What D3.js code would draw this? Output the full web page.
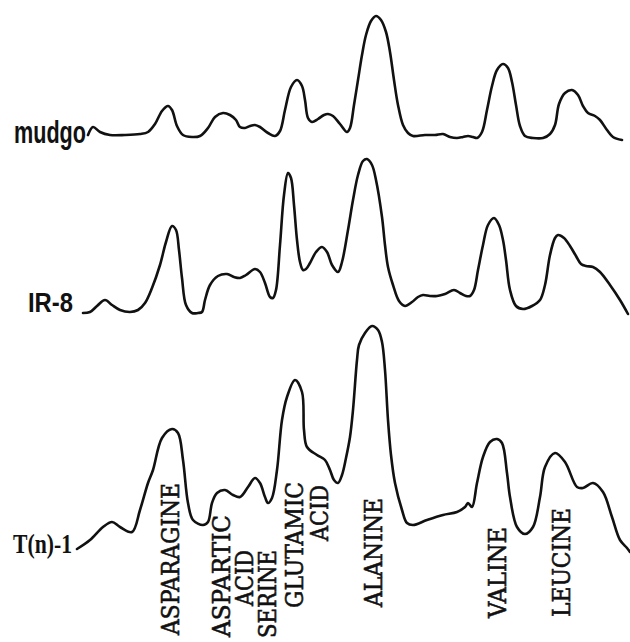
<!DOCTYPE html>
<html>
<head>
<meta charset="utf-8">
<script src="https://cdn.jsdelivr.net/npm/d3@7"></script>
<style>
body { margin: 0; background: #fff; }
</style>
</head>
<body>
<svg id="chromatogram" width="630" height="642"></svg>
<script>
// amino acid chromatograms of three rice samples

// traces: [time, signal] pairs
var mudgoTrace = [
[3.6,1.5],[4.6,5.5],[6.0,3],[8.0,1.5],[11.0,1.5],[14.0,2],[15.6,3],[17.0,7],[18.4,13.5],[19.6,16],
[20.4,14],[21.4,6],[22.6,1.5],[24.4,0.5],[26.0,1],[27.6,5],[29.0,10.5],[30.6,12.5],[32.0,11.5],[33.2,9],
[34.0,5.5],[35.0,5],[36.0,6],[37.0,6.5],[38.0,5.5],[39.6,2.5],[41.0,1],[42.0,3.5],[43.0,14],[44.2,25.5],
[45.4,29],[46.4,26],[47.0,19],[47.6,10],[48.4,8],[49.6,9.5],[50.8,11.5],[51.6,12],[52.6,11],[54.0,7],
[55.4,3],[56.0,5],[56.8,16.5],[57.6,29],[58.4,41.5],[59.2,51.5],[60.2,58.5],[61.2,61],[62.2,59],[63.2,53],
[64.0,43],[64.8,29],[65.6,16.5],[66.6,6.5],[67.6,2.5],[68.6,1],[71.0,1.5],[73.0,1.5],[74.6,2],[76.0,0.5],
[77.4,0],[78.6,0.5],[79.6,1],[80.6,0.5],[81.4,0],[82.4,3],[83.4,14],[84.4,26],[85.4,34],[86.6,37],
[87.6,35],[88.4,28],[89.2,16.5],[90.0,6],[91.0,1],[92.6,0],[94.6,0],[96.0,2],[97.0,6.5],[97.8,17],
[99.0,22.5],[100.4,24],[101.6,21.5],[102.6,16],[103.6,12.5],[105.0,11],[106.0,9],[107.4,4],[108.6,0.5],[110.4,-1]
];

var ir8Trace = [
[2.6,0.5],[4.0,1],[5.4,4],[7.0,7],[8.4,4.5],[10.0,2],[12.0,1],[13.6,2],[15.0,5.5],[16.4,13],
[18.0,24.5],[19.2,36],[20.4,44],[21.2,42],[21.8,32],[22.4,18],[23.2,4.5],[24.4,0.5],[25.6,0.5],[26.4,1],
[27.0,7],[28.0,14.5],[29.6,19],[31.4,20],[32.8,18.5],[34.0,18],[35.2,19.5],[37.0,22.5],[38.0,21],[39.0,15.5],
[40.0,8.5],[40.6,8],[41.2,12],[42.0,34.5],[42.8,59.5],[43.6,70.5],[44.2,68],[44.8,54.5],[45.4,37],[46.0,26],
[46.6,22],[47.2,22.5],[48.0,25.5],[49.2,31],[50.4,33.5],[51.4,31],[52.4,24.5],[53.6,21],[54.4,26],[55.6,42],
[56.6,57],[57.6,69.5],[58.6,76.5],[59.4,77.5],[60.4,74.5],[61.2,67],[62.4,48.5],[63.0,34.5],[63.6,23.5],[64.6,14.5],
[65.8,6.5],[67.0,4],[68.4,6],[69.6,8.5],[70.6,9.5],[72.0,9],[73.4,9],[75.0,10],[76.8,12],[78.0,10.5],
[79.2,9],[80.0,9],[80.8,12],[81.6,22],[82.6,34.5],[83.6,44.5],[84.8,48],[85.8,44.5],[86.6,37],[87.2,27],
[88.0,12],[89.2,4],[90.6,2.5],[92.4,4],[94.0,7],[95.0,14.5],[96.0,29.5],[97.0,38],[97.6,39.5],[98.8,38],
[100.0,34],[101.2,29],[102.2,25],[103.2,24],[104.6,23.5],[106.0,21],[108.0,14.5],[110.0,7],[111.6,0]
];

var tn1Trace = [
[1.4,0.5],[4.0,5],[6.6,11.5],[8.4,14],[10.0,11.5],[12.4,9],[14.0,20],[15.6,33.5],[16.6,40],[18.4,56],
[20.4,60.5],[21.6,58.5],[22.6,45],[23.6,23.5],[24.6,15],[26.6,12.5],[27.6,14],[28.4,23.5],[29.4,28.5],[31.0,30],
[32.6,27.5],[34.0,26.5],[35.6,31.5],[37.0,36],[38.0,33.5],[39.0,26.5],[39.6,23.5],[40.4,26],[41.4,40],[42.4,65],
[43.4,76.5],[45.0,85],[46.4,79],[46.8,60],[47.4,51.5],[49.4,47.5],[51.0,45],[52.0,40],[52.8,35],[53.6,33.5],
[54.4,37.5],[55.2,46],[56.0,56.5],[56.6,70],[57.4,95],[57.8,102.5],[59.0,108.5],[60.4,112],[61.6,110],[62.4,104],
[63.0,90],[63.6,65],[64.2,47.5],[65.0,33.5],[66.4,20],[67.4,13.5],[68.6,12.5],[71.4,15],[74.6,17.5],[77.4,19],
[79.0,21.5],[79.6,23.5],[80.4,21.5],[81.4,33.5],[82.6,46.5],[84.0,54],[85.4,55.5],[86.4,53.5],[87.4,38.5],[88.0,26.5],
[89.4,11.5],[91.0,8],[92.6,11.5],[94.0,26.5],[95.0,41.5],[97.0,48.5],[99.0,44],[101.4,31.5],[102.6,31],[104.6,33.5],
[106.6,29],[108.4,16.5],[110.0,5],[111.4,1],[112.0,-1]
];

var sampleNames = ["mudgo", "IR-8", "T(n)-1"];

// amino acid names and the time of their peak (label centre)
var peakNames = ["ASPARAGINE", "ASPARTIC", "ACID", "SERINE", "GLUTAMIC", "ACID", "ALANINE", "VALINE", "LEUCINE"];
var peakTimes = [20.0, 30.2, 34.8, 39.4, 44.8, 49.7, 60.6, 85.4, 98.2];

// layout
var traceBase = [138, 314, 550];
var sampleLabel = [
	{ x: 14, y: 143, len: 72, size: 32, font: "Liberation Sans" },
	{ x: 28, y: 312, len: 45, size: 27, font: "Liberation Sans" },
	{ x: 13, y: 553, len: 59, size: 27, font: "Liberation Serif" }
];
var peakBottom = [635, 637, 606, 638, 608, 541, 607, 618, 617];
var peakLen = [152, 122, 56, 88, 126, 56, 109, 91, 109];

var svg = d3.select("#chromatogram");

var xScale = d3.scaleLinear()
.domain([0, 112])
.range([70, 630]);

var traces = [mudgoTrace, ir8Trace, tn1Trace];

traces.forEach(function (trace, i) {
	var yScale = d3.scaleLinear()
	.domain([0, 100])
	.range([traceBase[i], traceBase[i] - 200]);

	var line = d3.line()
	.x(function (d) { return xScale(d[0]); })
	.y(function (d) { return yScale(d[1]); })
	.curve(d3.curveCatmullRom.alpha(0.5));

	svg.append("path")
	.datum(trace)
	.attr("d", line)
	.style("fill", "none")
	.style("stroke", "#111")
	.style("stroke-width", 2.6)
	.style("stroke-linejoin", "round")
	.style("stroke-linecap", "round");

	svg.append("text")
	.text(sampleNames[i])
	.attr("x", sampleLabel[i].x)
	.attr("y", sampleLabel[i].y)
	.attr("textLength", sampleLabel[i].len)
	.attr("lengthAdjust", "spacingAndGlyphs")
	.attr("font-family", sampleLabel[i].font)
	.attr("font-weight", "bold")
	.attr("font-size", sampleLabel[i].size)
	.style("fill", "#111");
});

peakNames.forEach(function (name, i) {
	var x = xScale(peakTimes[i]) + 9;
	var y = peakBottom[i];
	svg.append("text")
	.text(name)
	.attr("transform", "translate(" + x + "," + y + ") rotate(-90)")
	.attr("textLength", peakLen[i])
	.attr("lengthAdjust", "spacingAndGlyphs")
	.attr("font-family", "'DejaVu Serif', serif")
	.attr("font-size", 24)
	.style("fill", "#111")
	.style("stroke", "#111")
	.style("stroke-width", 0.6);
});
</script>
</body>
</html>
